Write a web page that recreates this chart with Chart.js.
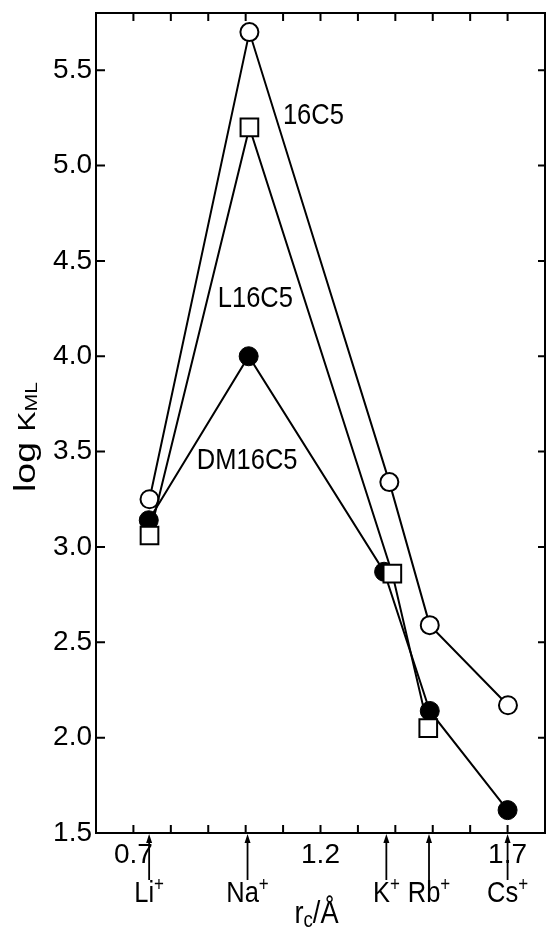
<!DOCTYPE html>
<html>
<head>
<meta charset="utf-8">
<script src="https://cdn.jsdelivr.net/npm/chart.js@4.4.0/dist/chart.umd.min.js"></script>
<style>
html, body { margin: 0; padding: 0; background: #fff; overflow: hidden; }
#wrap { width: 546px; height: 927px; }
canvas { display: block; }
</style>
</head>
<body>
<div id="wrap"><canvas id="myChart"></canvas></div>
<script>
// ion radii (A) marked by arrows under the axis
const ions = ['Li', 'Na', 'K', 'Rb', 'Cs'];
const ionRadius = [0.742, 1.005, 1.376, 1.490, 1.700];

// log K_ML
const x_16C5 = [0.743, 1.010, 1.384, 1.492, 1.701];
const y_16C5 = [3.25, 5.70, 3.34, 2.59, 2.17];

const x_L16C5 = [0.743, 1.010, 1.392, 1.488];
const y_L16C5 = [3.06, 5.20, 2.86, 2.05];

const x_DM16C5 = [0.741, 1.008, 1.370, 1.492, 1.700];
const y_DM16C5 = [3.14, 4.00, 2.87, 2.14, 1.62];

const xTickLabels = [0.7, 1.2, 1.7];

const FONT = "'Liberation Sans', Arial, sans-serif";

function pts(xs, ys) {
    return xs.map((x, i) => ({ x: x, y: ys[i] }));
}

// squeezed text, the scan is a bit narrow
function narrowText(ctx, str, x, y, size, sx, align) {
    ctx.save();
    ctx.font = size + 'px ' + FONT;
    var w = ctx.measureText(str).width * sx;
    ctx.translate(align === 'center' ? x - w / 2 : x, y);
    ctx.scale(sx, 1);
    ctx.textAlign = 'left';
    ctx.fillText(str, 0, 0);
    ctx.restore();
    return w;
}
function textWidth(ctx, str, size, sx) {
    ctx.save();
    ctx.font = size + 'px ' + FONT;
    var w = ctx.measureText(str).width * sx;
    ctx.restore();
    return w;
}

const decor = {
    id: 'decor',
    afterDraw(chart) {
        const ctx = chart.ctx;
        const a = chart.chartArea;
        const x = chart.scales.x, y = chart.scales.y;
        ctx.save();
        ctx.strokeStyle = '#000';
        ctx.fillStyle = '#000';

        // frame
        ctx.lineWidth = 2;
        ctx.strokeRect(a.left, a.top, a.right - a.left, a.bottom - a.top);

        // ticks pointing inwards on all four sides
        ctx.beginPath();
        x.ticks.forEach(t => {
            var px = x.getPixelForValue(t.value);
            if (px < a.left + 3 || px > a.right - 3) return;
            ctx.moveTo(px, a.bottom); ctx.lineTo(px, a.bottom - 8);
            ctx.moveTo(px, a.top); ctx.lineTo(px, a.top + 8);
        });
        y.ticks.forEach(t => {
            var py = y.getPixelForValue(t.value);
            if (py < a.top + 3 || py > a.bottom - 3) return;
            ctx.moveTo(a.left, py); ctx.lineTo(a.left + 9, py);
            ctx.moveTo(a.right, py); ctx.lineTo(a.right - 7, py);
        });
        ctx.stroke();

        // arrows + ion names
        ctx.lineWidth = 1.8;
        ctx.textBaseline = 'alphabetic';
        ions.forEach((ion, i) => {
            var px = x.getPixelForValue(ionRadius[i]);
            ctx.beginPath();
            ctx.moveTo(px, a.bottom + 8);
            ctx.lineTo(px, a.bottom + 47);
            ctx.stroke();
            ctx.beginPath();
            ctx.moveTo(px, a.bottom + 1);
            ctx.lineTo(px - 3, a.bottom + 10);
            ctx.lineTo(px + 3, a.bottom + 10);
            ctx.closePath();
            ctx.fill();

            var wb = textWidth(ctx, ion, 30, 0.85);
            var wp = textWidth(ctx, '+', 20, 0.85);
            var sx0 = px - (wb + wp) / 2;
            narrowText(ctx, ion, sx0, a.bottom + 69, 30, 0.85, 'left');
            narrowText(ctx, '+', sx0 + wb, a.bottom + 58, 20, 0.85, 'left');
        });

        // series names
        const names = [['16C5', 1.181, 5.267], ['L16C5', 1.026, 4.307], ['DM16C5', 1.004, 3.457]];
        ctx.textBaseline = 'middle';
        names.forEach(n => {
            narrowText(ctx, n[0], x.getPixelForValue(n[1]), y.getPixelForValue(n[2]) + 1, 30, 0.85, 'center');
        });

        // x title  r_c / A
        ctx.textBaseline = 'alphabetic';
        var parts = [['r', 32, 0], ['c', 22, 4], ['/\u00C5', 32, 0]];
        var tot = 0;
        parts.forEach(p => { tot += textWidth(ctx, p[0], p[1], 0.85); });
        var cx = (a.left + a.right) / 2 - 4 - tot / 2;
        parts.forEach(p => {
            cx += narrowText(ctx, p[0], cx, a.bottom + 90 + p[2], p[1], 0.85, 'left');
        });

        // y title  log K_ML (rotated)
        ctx.save();
        ctx.translate(35, (a.top + a.bottom) / 2 + 14);
        ctx.rotate(-Math.PI / 2);
        ctx.scale(1.25, 1);
        ctx.textAlign = 'left';
        ctx.textBaseline = 'alphabetic';
        var yparts = [['log ', 30, 0], ['K', 24, 0], ['ML', 17, 2]];
        var ytot = 0;
        yparts.forEach(p => { ctx.font = p[1] + 'px ' + FONT; ytot += ctx.measureText(p[0]).width; });
        var ty = -ytot / 2;
        yparts.forEach(p => {
            ctx.font = p[1] + 'px ' + FONT;
            ctx.fillText(p[0], ty, p[2]);
            ty += ctx.measureText(p[0]).width;
        });
        ctx.restore();

        ctx.restore();
    }
};

var ctx = document.getElementById('myChart').getContext('2d');
var myChart = new Chart(ctx, {
    type: 'scatter',
    data: {
        datasets: [{
            label: 'L16C5',
            data: pts(x_L16C5, y_L16C5),
            showLine: true,
            borderColor: '#000',
            borderWidth: 2,
            pointStyle: 'rect',
            pointRadius: 12.5,
            pointBackgroundColor: '#fff',
            pointBorderColor: '#000',
            pointBorderWidth: 2,
            order: 1
        }, {
            label: 'DM16C5',
            data: pts(x_DM16C5, y_DM16C5),
            showLine: true,
            borderColor: '#000',
            borderWidth: 2,
            pointRadius: 9.5,
            pointBackgroundColor: '#000',
            pointBorderColor: '#000',
            pointBorderWidth: 1,
            order: 2
        }, {
            label: '16C5',
            data: pts(x_16C5, y_16C5),
            showLine: true,
            borderColor: '#000',
            borderWidth: 2,
            pointRadius: 9,
            pointBackgroundColor: '#fff',
            pointBorderColor: '#000',
            pointBorderWidth: 2,
            order: 3
        }]
    },
    options: {
        responsive: true,
        maintainAspectRatio: false,
        animation: false,
        layout: { autoPadding: false, padding: { top: 13, right: 1, left: 0, bottom: 0 } },
        plugins: { legend: { display: false }, tooltip: { enabled: false } },
        scales: {
            x: {
                type: 'linear',
                min: 0.6,
                max: 1.8,
                afterFit: function (s) { s.height = 94; s.paddingLeft = 0; s.paddingRight = 0; },
                grid: { display: false, drawTicks: false },
                border: { display: false },
                ticks: {
                    stepSize: 0.1,
                    autoSkip: false,
                    maxRotation: 0,
                    padding: 5,
                    color: '#000',
                    font: { family: FONT, size: 28 },
                    callback: function (v) {
                        var t = Math.round(v * 10) / 10;
                        return xTickLabels.includes(t) ? t.toFixed(1) : '';
                    }
                }
            },
            y: {
                min: 1.5,
                max: 5.8,
                afterFit: function (s) { s.width = 96; s.paddingTop = 0; s.paddingBottom = 0; },
                grid: { display: false, drawTicks: false },
                border: { display: false },
                ticks: {
                    stepSize: 0.5,
                    padding: 4,
                    color: '#000',
                    font: { family: FONT, size: 28 },
                    callback: function (v) {
                        return Math.abs(v - 5.8) < 1e-6 ? '' : v.toFixed(1);
                    }
                }
            }
        }
    },
    plugins: [decor]
});
</script>
</body>
</html>
